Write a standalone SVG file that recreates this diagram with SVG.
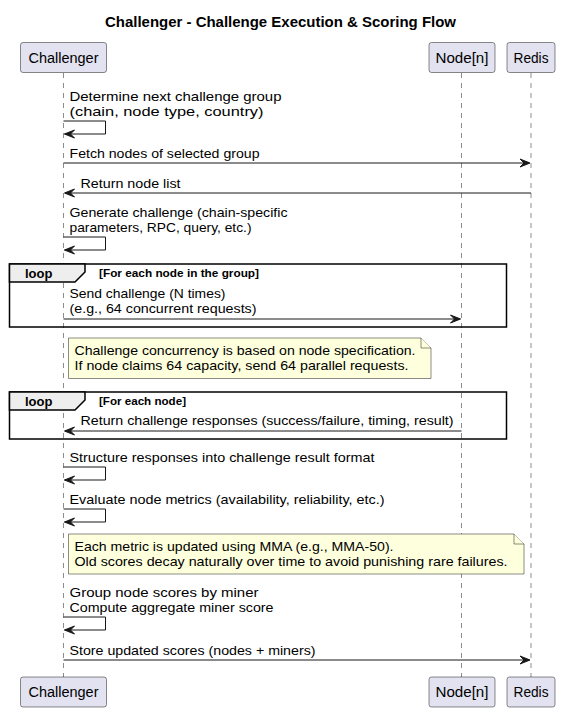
<svg xmlns="http://www.w3.org/2000/svg" width="561" height="711" viewBox="0 0 561 711">
<style>
text{font-family:"Liberation Sans",Arial,sans-serif;fill:#000}
.t{font-size:14px;font-weight:bold}
.p{font-size:14px}
.m{font-size:13px}
.lb{font-size:13px;font-weight:bold}
.cd{font-size:11px;font-weight:bold}
.box{fill:#E2E2F0;stroke:#181818;stroke-width:0.5}
.life{stroke:#181818;stroke-width:0.5;stroke-dasharray:5,5;fill:none}
.ln{stroke:#181818;stroke-width:1;fill:none}
.ah{fill:#181818;stroke:#181818;stroke-width:1}
.frame{fill:none;stroke:#000;stroke-width:1.5}
.tab{fill:#EEEEEE;stroke:#000;stroke-width:1.5}
.note{fill:#FEFFDD;stroke:#181818;stroke-width:0.5}
</style>
<text class="t" x="280.5" y="27" text-anchor="middle" textLength="351" lengthAdjust="spacingAndGlyphs">Challenger - Challenge Execution &amp; Scoring Flow</text>

<g id="lifelines">
<line class="life" x1="63.5" y1="73" x2="63.5" y2="677"/>
<line class="life" x1="461.5" y1="73" x2="461.5" y2="677"/>
<line class="life" x1="531" y1="73" x2="531" y2="677"/>
</g>

<g id="frame-loop1">
<rect class="frame" x="9.5" y="264" width="497" height="63"/>
<path class="tab" d="M9.5,264 H85 V272 L75,282 H9.5 Z"/>
<text class="lb" x="25" y="277.5">loop</text>
<text class="cd" x="99" y="276.5" textLength="160" lengthAdjust="spacingAndGlyphs">[For each node in the group]</text>
</g>

<g id="frame-loop2">
<rect class="frame" x="9.5" y="392" width="497" height="47"/>
<path class="tab" d="M9.5,392 H85 V400 L75,410 H9.5 Z"/>
<text class="lb" x="25" y="405.5">loop</text>
<text class="cd" x="99" y="404.5" textLength="87" lengthAdjust="spacingAndGlyphs">[For each node]</text>
</g>

<g id="connectors">
<!-- 1 self -->
<text class="m" x="69.5" y="101" textLength="212" lengthAdjust="spacingAndGlyphs">Determine next challenge group</text>
<text class="m" x="69.5" y="116" textLength="194" lengthAdjust="spacingAndGlyphs">(chain, node type, country)</text>
<polyline class="ln" points="63.5,121 105.5,121 105.5,134 64.5,134"/>
<polygon class="ah" points="64.5,134 74.5,130 70.5,134 74.5,138"/>
<!-- 2 fetch -->
<text class="m" x="69.5" y="158" textLength="190" lengthAdjust="spacingAndGlyphs">Fetch nodes of selected group</text>
<line class="ln" x1="63.5" y1="163" x2="529" y2="163"/>
<polygon class="ah" points="530,163 520,159 524,163 520,167"/>
<!-- 3 return -->
<text class="m" x="80.5" y="188" textLength="100" lengthAdjust="spacingAndGlyphs">Return node list</text>
<line class="ln" x1="531" y1="193" x2="65" y2="193"/>
<polygon class="ah" points="64.5,193 74.5,189 70.5,193 74.5,197"/>
<!-- 4 self -->
<text class="m" x="69.5" y="217" textLength="218" lengthAdjust="spacingAndGlyphs">Generate challenge (chain-specific</text>
<text class="m" x="69.5" y="232" textLength="182" lengthAdjust="spacingAndGlyphs">parameters, RPC, query, etc.)</text>
<polyline class="ln" points="63.5,237 105.5,237 105.5,250 64.5,250"/>
<polygon class="ah" points="64.5,250 74.5,246 70.5,250 74.5,254"/>
<!-- 5 send -->
<text class="m" x="69.5" y="298" textLength="156" lengthAdjust="spacingAndGlyphs">Send challenge (N times)</text>
<text class="m" x="69.5" y="313" textLength="187" lengthAdjust="spacingAndGlyphs">(e.g., 64 concurrent requests)</text>
<line class="ln" x1="63.5" y1="319" x2="459.5" y2="319"/>
<polygon class="ah" points="460.5,319 450.5,315 454.5,319 450.5,323"/>
<!-- 6 return responses -->
<text class="m" x="80.5" y="425" textLength="373" lengthAdjust="spacingAndGlyphs">Return challenge responses (success/failure, timing, result)</text>
<line class="ln" x1="461.5" y1="431" x2="65" y2="431"/>
<polygon class="ah" points="64.5,431 74.5,427 70.5,431 74.5,435"/>
<!-- 7 structure -->
<text class="m" x="69.5" y="462" textLength="305" lengthAdjust="spacingAndGlyphs">Structure responses into challenge result format</text>
<polyline class="ln" points="63.5,467 105.5,467 105.5,480 64.5,480"/>
<polygon class="ah" points="64.5,480 74.5,476 70.5,480 74.5,484"/>
<!-- 8 evaluate -->
<text class="m" x="69.5" y="504" textLength="315" lengthAdjust="spacingAndGlyphs">Evaluate node metrics (availability, reliability, etc.)</text>
<polyline class="ln" points="63.5,509 105.5,509 105.5,522 64.5,522"/>
<polygon class="ah" points="64.5,522 74.5,518 70.5,522 74.5,526"/>
<!-- 9 group -->
<text class="m" x="69.5" y="597" textLength="189" lengthAdjust="spacingAndGlyphs">Group node scores by miner</text>
<text class="m" x="69.5" y="612" textLength="204" lengthAdjust="spacingAndGlyphs">Compute aggregate miner score</text>
<polyline class="ln" points="63.5,617 105.5,617 105.5,630 64.5,630"/>
<polygon class="ah" points="64.5,630 74.5,626 70.5,630 74.5,634"/>
<!-- 10 store -->
<text class="m" x="69.5" y="655" textLength="246" lengthAdjust="spacingAndGlyphs">Store updated scores (nodes + miners)</text>
<line class="ln" x1="63.5" y1="660" x2="529" y2="660"/>
<polygon class="ah" points="530,660 520,656 524,660 520,664"/>
</g>

<g id="note1">
<path class="note" d="M68.5,338 H421 L431,348 V378.5 H68.5 Z"/>
<path class="note" d="M421,338 V348 H431"/>
<text class="m" x="74.5" y="355" textLength="341" lengthAdjust="spacingAndGlyphs">Challenge concurrency is based on node specification.</text>
<text class="m" x="74.5" y="370" textLength="334" lengthAdjust="spacingAndGlyphs">If node claims 64 capacity, send 64 parallel requests.</text>
</g>

<g id="note2">
<path class="note" d="M68.5,534 H514 L524,544 V574 H68.5 Z"/>
<path class="note" d="M514,534 V544 H524"/>
<text class="m" x="74.5" y="551" textLength="319" lengthAdjust="spacingAndGlyphs">Each metric is updated using MMA (e.g., MMA-50).</text>
<text class="m" x="74.5" y="566" textLength="433" lengthAdjust="spacingAndGlyphs">Old scores decay naturally over time to avoid punishing rare failures.</text>
</g>

<g id="challenger-top"><rect class="box" x="20.5" y="42.5" width="86" height="30" rx="2.5"/><text class="p" x="63.5" y="62.5" text-anchor="middle" textLength="70" lengthAdjust="spacingAndGlyphs">Challenger</text></g>
<g id="node-top"><rect class="box" x="429" y="42.5" width="66" height="30" rx="2.5"/><text class="p" x="462" y="62.5" text-anchor="middle" textLength="53" lengthAdjust="spacingAndGlyphs">Node[n]</text></g>
<g id="redis-top"><rect class="box" x="507" y="42.5" width="48" height="30" rx="2.5"/><text class="p" x="531" y="62.5" text-anchor="middle" textLength="35" lengthAdjust="spacingAndGlyphs">Redis</text></g>
<g id="challenger-bottom"><rect class="box" x="20.5" y="677" width="86" height="30" rx="2.5"/><text class="p" x="63.5" y="697" text-anchor="middle" textLength="70" lengthAdjust="spacingAndGlyphs">Challenger</text></g>
<g id="node-bottom"><rect class="box" x="429" y="677" width="66" height="30" rx="2.5"/><text class="p" x="462" y="697" text-anchor="middle" textLength="53" lengthAdjust="spacingAndGlyphs">Node[n]</text></g>
<g id="redis-bottom"><rect class="box" x="507" y="677" width="48" height="30" rx="2.5"/><text class="p" x="531" y="697" text-anchor="middle" textLength="35" lengthAdjust="spacingAndGlyphs">Redis</text></g>
</svg>
